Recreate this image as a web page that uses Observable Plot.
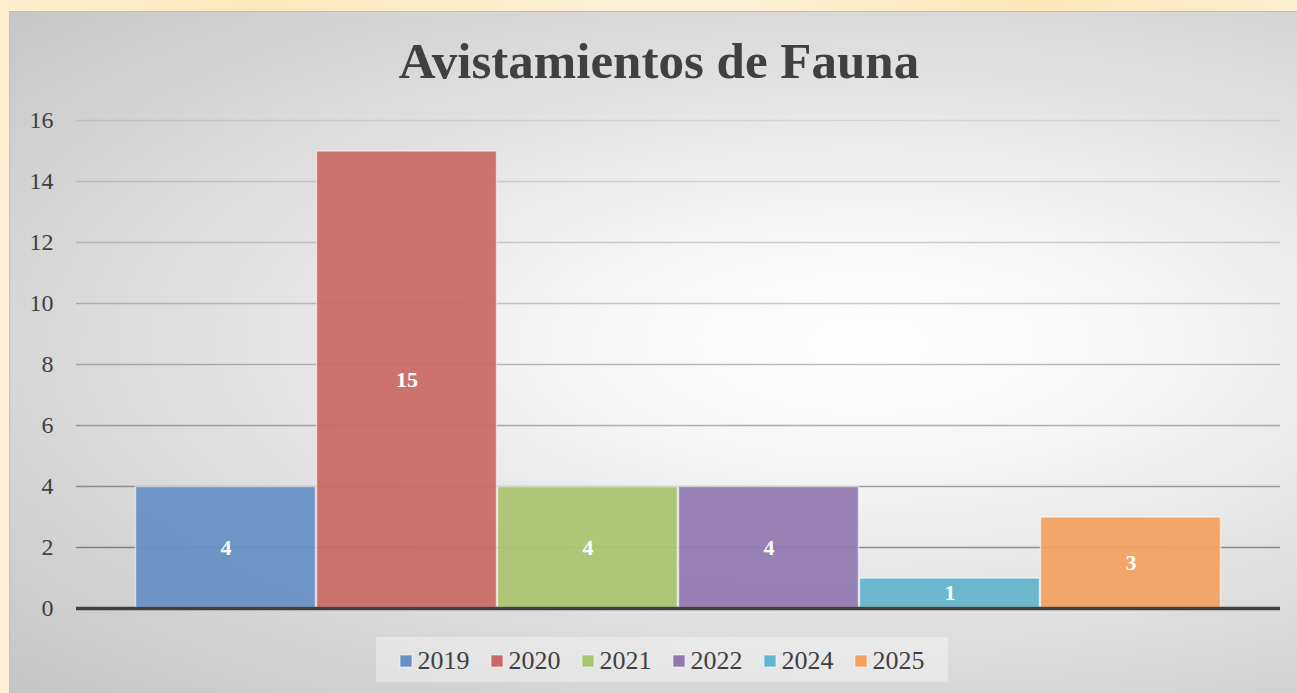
<!DOCTYPE html>
<html>
<head>
<meta charset="utf-8">
<script src="https://cdn.jsdelivr.net/npm/d3@7"></script>
<script src="https://cdn.jsdelivr.net/npm/@observablehq/plot@0.6"></script>
<style>
  body { margin: 0; }
  #page { position: relative; width: 1297px; height: 693px; overflow: hidden;
    background: radial-gradient(circle at 20% 0%, #fbe8bd 0%, rgba(251,232,189,0) 30%),
                radial-gradient(circle at 80% 0%, #fbe6b8 0%, rgba(251,230,184,0) 25%),
                #fdf1d8; }
  #panel { position: absolute; left: 9px; top: 11px; width: 1300px; height: 690px;
    border-top: 1px solid #bdbdbd; border-left: 1px solid #c0c0c0;
    background: radial-gradient(ellipse farthest-corner at 66% 48%, #ffffff 0%, #f5f5f5 25%, #e0e0e0 55%, #c4c4c4 100%); }
  #title { position: absolute; left: 0; top: 33px; width: 1318px; text-align: center;
    font-family: "Liberation Serif", serif; font-weight: bold; font-size: 51px; color: #404040; line-height: 56px; }
  #chart { position: absolute; left: 0; top: 0; }
  #legend { position: absolute; left: 376px; top: 637px; width: 572px; height: 45px; box-sizing: border-box; padding-top: 3px;
    background: rgba(255,255,255,0.35); display: flex; align-items: center; justify-content: center; }
  #legend > div { margin: 0 !important; min-height: 0 !important; display: flex !important; align-items: center; }
  #legend span { margin-right: 21px !important; display: inline-flex !important; align-items: center; }
  #legend span:last-child { margin-right: 0 !important; }
  #legend span > svg { margin-right: 6px !important; }
  #legend rect { stroke: rgba(255,255,255,0.6); stroke-width: 1px; }
</style>
</head>
<body>
<div id="page">
  <div id="panel"></div>
  <div id="title">Avistamientos de Fauna</div>
  <div id="chart"></div>
  <div id="legend"></div>
</div>
<script>
const years = ["2019", "2020", "2021", "2022", "2024", "2025"];
const values = [4, 15, 4, 4, 1, 3];
const colors = ["#6490c4", "#c96966", "#a9c470", "#9079b0", "#62b5cc", "#f3a05e"];
const yTicks = [0, 2, 4, 6, 8, 10, 12, 14, 16];
const gridTicks = [2, 4, 6, 8, 10, 12, 14, 16];

const serif = "'Liberation Serif', serif";
const data = years.map((y, i) => ({year: y, value: values[i]}));

const plot = Plot.plot({
  width: 1297,
  height: 693,
  marginLeft: 76,
  marginRight: 17,
  marginTop: 120,
  marginBottom: 85,
  style: {background: "transparent", fontFamily: serif, fontSize: "24px", color: "#404040", overflow: "visible"},
  x: {domain: years, padding: 0, insetLeft: 59, insetRight: 59, axis: null},
  y: {domain: [0, 16], axis: null},
  color: {domain: years, range: colors},
  marks: [
    Plot.ruleY(gridTicks, {stroke: "url(#gridGrad)", strokeWidth: 1.6}),
    Plot.barY(data, {x: "year", y: "value", fill: "year", fillOpacity: 0.93, stroke: "#ffffff", strokeOpacity: 0.55, strokeWidth: 1.5, inset: 0.5}),
    Plot.ruleY([0], {stroke: "#404040", strokeWidth: 3.5}),
    Plot.axisY({ticks: yTicks, label: null, tickSize: 0, tickPadding: 23, fontSize: 24, fontFamily: serif, fill: "#404040", tickFormat: d => String(d)}),
    Plot.text(data, {x: "year", y: d => d.value / 2, text: d => String(d.value), fill: "white", fontWeight: "bold", fontSize: 22, fontFamily: serif})
  ]
});

const svg = d3.select(plot);
const defs = svg.insert("defs", ":first-child");
const g = defs.append("linearGradient").attr("id", "gridGrad")
  .attr("gradientUnits", "userSpaceOnUse").attr("x1", 0).attr("y1", 120).attr("x2", 0).attr("y2", 608);
g.append("stop").attr("offset", "0%").attr("stop-color", "#000").attr("stop-opacity", 0.09);
g.append("stop").attr("offset", "50%").attr("stop-color", "#000").attr("stop-opacity", 0.25);
g.append("stop").attr("offset", "100%").attr("stop-color", "#000").attr("stop-opacity", 0.45);
svg.selectAll("text").style("font-family", serif);

document.getElementById("chart").appendChild(plot);

const legend = Plot.legend({
  color: {type: "ordinal", domain: years, range: colors},
  legend: "swatches",
  swatchSize: 12,
  className: "lg"
});
document.getElementById("legend").appendChild(legend);
[legend, ...legend.querySelectorAll("*")].forEach(el => {
  el.style.setProperty("font-family", serif, "important");
  el.style.setProperty("font-size", "26px", "important");
  el.style.setProperty("color", "#404040", "important");
});
</script>
</body>
</html>
